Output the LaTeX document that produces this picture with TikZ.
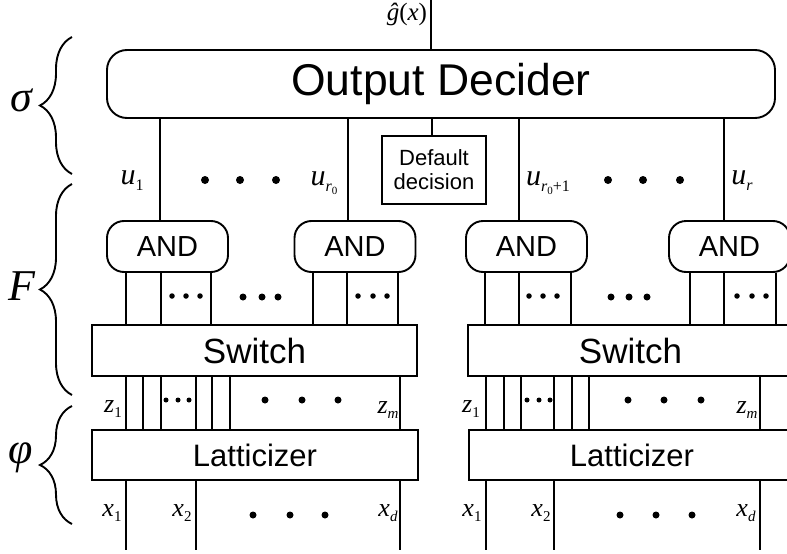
\documentclass[tikz,border=0pt]{standalone}
\usepackage{graphicx}
\usepackage{fontspec}
\setmainfont{Liberation Sans}
\newfontfamily\tms{Liberation Serif}
\usetikzlibrary{decorations.pathreplacing}
\newcommand\ulbl[2]{{\tms\fontsize{30}{30}\selectfont\itshape #1}\raisebox{-6pt}{\tms\fontsize{16}{16}\selectfont #2}}
\newcommand\zlbl[2]{{\tms\fontsize{26}{26}\selectfont\itshape #1}\raisebox{-5pt}{\tms\fontsize{15}{15}\selectfont #2}}
\begin{document}
\begin{tikzpicture}[x=1pt,y=-1pt,line width=1.9pt,
  blk/.style={draw,inner sep=0pt,minimum height=51pt},
  rnd/.style={blk,rounded corners=17pt,minimum width=121pt,font=\fontsize{29}{29}\selectfont},
  swb/.style={blk,minimum width=325pt,font=\fontsize{35}{35}\selectfont},
  latb/.style={blk,minimum width=326pt,minimum height=50pt,font=\fontsize{31}{31}\selectfont},
  lbl/.style={inner sep=0pt},
  glab/.style={font=\tms\itshape\fontsize{44}{44}\selectfont},
  brc/.style={decorate,decoration={brace,amplitude=32pt}},
  bigdot/.style={fill,circle,inner sep=0pt,minimum size=8pt},
  middot/.style={fill,circle,inner sep=0pt,minimum size=7pt},
  smdot/.style={fill,circle,inner sep=0pt,minimum size=5.5pt}]
\clip (0,0) rectangle (787,554);
\useasboundingbox (0,0) rectangle (787,554);

% boxes
\node[draw,inner sep=0pt,rounded corners=20pt,minimum width=668pt,minimum height=68pt,
  font=\fontsize{44.5}{44}\selectfont] (od) at (441,84) {Output Decider};
\node[draw,inner sep=0pt,minimum width=104pt,minimum height=68pt,align=center,
  font=\fontsize{22}{24}\selectfont] (dd) at (434,170) {Default\\decision};
\node[rnd] (and1) at (167.5,246.5) {AND};
\node[rnd] (and2) at (355,246.5) {AND};
\node[rnd] (and3) at (526.5,246.5) {AND};
\node[rnd] (and4) at (729.5,246.5) {AND};
\node[swb] (sw1) at (254.5,350.5) {Switch};
\node[swb] (sw2) at (630.5,350.5) {Switch};
\node[latb] (lat1) at (255,455) {Latticizer};
\node[latb] (lat2) at (632,455) {Latticizer};

% output line
\coordinate (top) at (431,0);
\draw (top) -- (od.north -| top);
\node[lbl,anchor=east,font=\tms\fontsize{25}{25}\selectfont] (glabel) at (428,14) {{\itshape \^g}(\textit{x})};

% decider to AND
\foreach \xx/\nn in {160/and1,348/and2,519/and3,724/and4}
  \draw (od.south -| \xx,0) -- (\nn.north -| \xx,0);
\draw (od.south -| 432,0) -- (dd.north -| 432,0);

% AND to switch
\foreach \xx in {126,161,211} \draw (and1.south -| \xx,0) -- (sw1.north -| \xx,0);
\foreach \xx in {313,347,398} \draw (and2.south -| \xx,0) -- (sw1.north -| \xx,0);
\foreach \xx in {485,519,571} \draw (and3.south -| \xx,0) -- (sw2.north -| \xx,0);
\foreach \xx in {690,724,776} \draw (and4.south -| \xx,0) -- (sw2.north -| \xx,0);

% switch to latticizer
\foreach \xx in {126,143,161,196,212,230,400} \draw (sw1.south -| \xx,0) -- (lat1.north -| \xx,0);
\foreach \xx in {486,504,521,554,572,589,760} \draw (sw2.south -| \xx,0) -- (lat2.north -| \xx,0);

% latticizer inputs
\foreach \xx in {126,196,400} {\coordinate (in\xx) at (\xx,550); \draw (lat1.south -| \xx,0) -- (in\xx);}
\foreach \xx in {486,554,760} {\coordinate (in\xx) at (\xx,550); \draw (lat2.south -| \xx,0) -- (in\xx);}

% u labels
\node[lbl] (u1) at (132,181) {\ulbl{u}{1}};
\node[lbl] (ur0) at (324,183) {\ulbl{u}{\itshape r\raisebox{-3pt}{\fontsize{11}{11}\selectfont\upshape 0}}};
\node[lbl] (ur01) at (548,183) {\ulbl{u}{\itshape r\raisebox{-3pt}{\fontsize{11}{11}\selectfont\upshape 0}\upshape+1}};
\node[lbl] (ur) at (742,181) {\ulbl{u}{\itshape r}};
\foreach \xx in {205,240,276,608,643,680} \node[bigdot] at (\xx,180) {};

% AND row dots
\foreach \xx in {172,186,200,358,373,387,529,543,557,737,752,766} \node[smdot] at (\xx,296) {};
\foreach \xx in {243,262,278,611,629,647} \node[middot] at (\xx,297) {};

% z labels
\node[lbl] (zl1) at (113,409) {\zlbl{z}{1}};
\node[lbl] (zlm) at (388,410) {\zlbl{z}{\itshape m}};
\node[lbl] (zr1) at (471,409) {\zlbl{z}{1}};
\node[lbl] (zrm) at (747,410) {\zlbl{z}{\itshape m}};
\foreach \xx in {166,178,189,527,539,550} \node[fill,circle,inner sep=0pt,minimum size=5pt] at (\xx,400) {};
\foreach \xx in {265,302,338,628,664,701} \node[middot] at (\xx,400) {};

% x labels
\node[lbl] (xl1) at (112,513) {\zlbl{x}{1}};
\node[lbl] (xl2) at (182,513) {\zlbl{x}{2}};
\node[lbl] (xld) at (388,513) {\zlbl{x}{\itshape d}};
\node[lbl] (xr1) at (472,513) {\zlbl{x}{1}};
\node[lbl] (xr2) at (541,513) {\zlbl{x}{2}};
\node[lbl] (xrd) at (746,513) {\zlbl{x}{\itshape d}};
\foreach \xx in {253,290,325,620,656,692} \node[middot] at (\xx,515) {};

% braces
\coordinate (sb) at (72,174); \coordinate (st) at (72,37);
\coordinate (fb) at (72,395); \coordinate (ft) at (72,184);
\coordinate (pb) at (72,524); \coordinate (pt) at (72,406);
\draw[brc] (sb) -- (st);
\draw[brc] (fb) -- (ft);
\draw[brc] (pb) -- (pt);
\node[glab] (sig) at (21,100) {σ};
\node[glab] (fl) at (22,286) {F};
\node[glab] (phi) at (21,458) {φ};
\end{tikzpicture}
\end{document}
